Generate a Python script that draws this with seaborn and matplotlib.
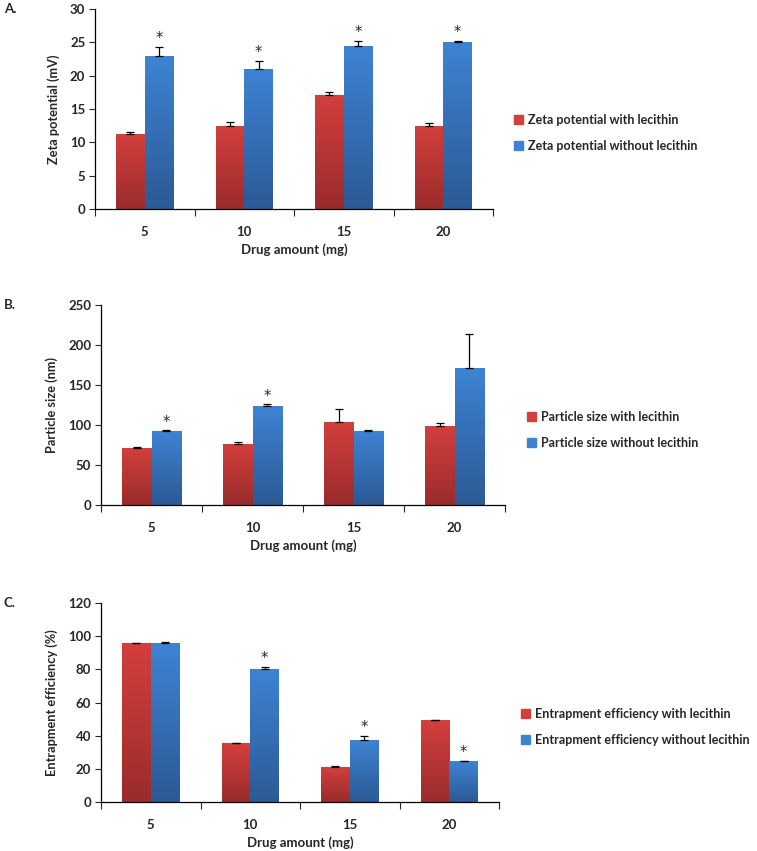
import numpy as np
import pandas as pd
import matplotlib
matplotlib.use("Agg")
import matplotlib.pyplot as plt
from matplotlib.colors import LinearSegmentedColormap
import seaborn as sns

# dados
doses = ['5', '10', '15', '20']

zeta_com = [11.2, 12.4, 17.1, 12.4]
zeta_com_err = [0.4, 0.6, 0.4, 0.55]
zeta_sem = [22.9, 21.0, 24.4, 25.0]
zeta_sem_err = [1.45, 1.25, 0.85, 0.25]
zeta_sig_sem = [True, True, True, True]

tam_com = [70.8, 76.7, 103.8, 99.2]
tam_com_err = [1.3, 1.5, 16.0, 3.5]
tam_sem = [92.6, 123.7, 93.0, 170.8]
tam_sem_err = [0.8, 2.0, 0.5, 43.0]
tam_sig_sem = [True, True, False, False]

ee_com = [95.6, 35.4, 21.2, 49.4]
ee_com_err = [0.5, 0.3, 0.3, 0.3]
ee_sem = [95.8, 80.0, 37.5, 24.6]
ee_sem_err = [0.4, 1.3, 2.4, 0.3]
ee_sig_sem = [False, True, True, True]

sns.set_style("white")
plt.rcParams['font.family'] = ['Lato', 'DejaVu Sans']
plt.rcParams['font.weight'] = 'bold'

W, H = 757, 851
fig = plt.figure(figsize=(W / 100, H / 100), dpi=100)

vermelho = ['#9a2c2c', '#d33f3d']
azul = ['#2c5a95', '#3e83d3']


def px(x0, y0, x1, y1):
    return [x0 / W, 1 - y1 / H, (x1 - x0) / W, (y1 - y0) / H]


def rect_top(rect):
    return 1 - (rect[1] + rect[3])


def painel(rect, letra, ylabel, ymax, ystep, com, com_err, sem, sem_err, sig, nomes, leg_xy):
    ax = fig.add_axes(rect)
    df = pd.DataFrame({
        'dose': doses * 2,
        'valor': com + sem,
        'serie': [nomes[0]] * 4 + [nomes[1]] * 4,
    })
    sns.barplot(data=df, x='dose', y='valor', hue='serie', ax=ax, width=0.575,
                palette=[vermelho[1], azul[1]], errorbar=None, saturation=1,
                order=doses, hue_order=nomes, legend=False)

    # gradiente dentro das barras
    grad = np.linspace(0, 1, 64).reshape(-1, 1)
    for cont, cores, erros in zip(ax.containers, [vermelho, azul], [com_err, sem_err]):
        cmap = LinearSegmentedColormap.from_list('g', cores)
        xs, ys = [], []
        for p in cont.patches:
            x, w, h = p.get_x(), p.get_width(), p.get_height()
            im = ax.imshow(grad, cmap=cmap, origin='lower', aspect='auto',
                           extent=[x, x + w, 0, h], zorder=p.get_zorder() + 0.1)
            im.set_clip_path(p)
            xs.append(x + w / 2)
            ys.append(h)
        ax.errorbar(xs, ys, yerr=[np.zeros(4), erros], fmt='none', ecolor='black',
                    elinewidth=0.9, capsize=3, capthick=0.9, zorder=6)

    # asteriscos nas barras sem lecitina
    cont = ax.containers[1]
    for p, e, s in zip(cont.patches, sem_err, sig):
        if s:
            ax.annotate('*', (p.get_x() + p.get_width() / 2, p.get_height() + e),
                        xytext=(0, 0.5), textcoords='offset points', ha='center', va='bottom',
                        fontsize=10.5, fontweight='normal', family='DejaVu Sans')

    ax.set_xlim(-0.5, 3.5)
    ax.set_ylim(0, ymax)
    ax.set_yticks(np.arange(0, ymax + 1, ystep))
    ax.set_xticks(range(4))
    ax.set_xticklabels(doses)
    ax.set_xticks(np.arange(-0.5, 4, 1), minor=True)
    ax.tick_params(axis='x', which='major', length=0, pad=12, labelsize=9.5)
    ax.tick_params(axis='x', which='minor', length=5, width=0.8, direction='out', bottom=True)
    ax.tick_params(axis='y', length=4, width=0.8, direction='out', left=True, labelsize=9.5, pad=3)
    sns.despine(ax=ax)
    for s in ['left', 'bottom']:
        ax.spines[s].set_color('black')
        ax.spines[s].set_linewidth(0.9)
    ax.set_xlabel('Drug amount (mg)', fontsize=9.5, fontweight='bold', labelpad=4)
    ax.set_ylabel(ylabel, fontsize=9.2, fontweight='bold', labelpad=7)
    ax.grid(False)

    fig.text(4 / W, 1 - rect_top(rect), letra, fontsize=9.5, fontweight='bold', va='center')

    handles = [plt.Rectangle((0, 0), 1, 1, color=vermelho[1]),
               plt.Rectangle((0, 0), 1, 1, color=azul[1])]
    fig.legend(handles, nomes, loc='center left', bbox_to_anchor=leg_xy,
               bbox_transform=fig.transFigure, frameon=False, fontsize=9,
               handlelength=0.7, handleheight=0.7, handletextpad=0.4, labelspacing=1.1,
               borderaxespad=0, borderpad=0)
    return ax


painel(px(95, 9, 493, 209), 'A.', 'Zeta potential (mV)', 30, 5,
       zeta_com, zeta_com_err, zeta_sem, zeta_sem_err, zeta_sig_sem,
       ['Zeta potential with lecithin', 'Zeta potential without lecithin'],
       (514 / W, 1 - 133 / H))

painel(px(101, 305, 505, 505), 'B.', 'Particle size (nm)', 250, 50,
       tam_com, tam_com_err, tam_sem, tam_sem_err, tam_sig_sem,
       ['Particle size with lecithin', 'Particle size without lecithin'],
       (527 / W, 1 - 430 / H))

painel(px(101, 603, 499, 802), 'C.', 'Entrapment efficiency (%)', 120, 20,
       ee_com, ee_com_err, ee_sem, ee_sem_err, ee_sig_sem,
       ['Entrapment efficiency with lecithin', 'Entrapment efficiency without lecithin'],
       (521 / W, 1 - 727 / H))

fig.savefig('out.png', dpi=100, facecolor='white')
